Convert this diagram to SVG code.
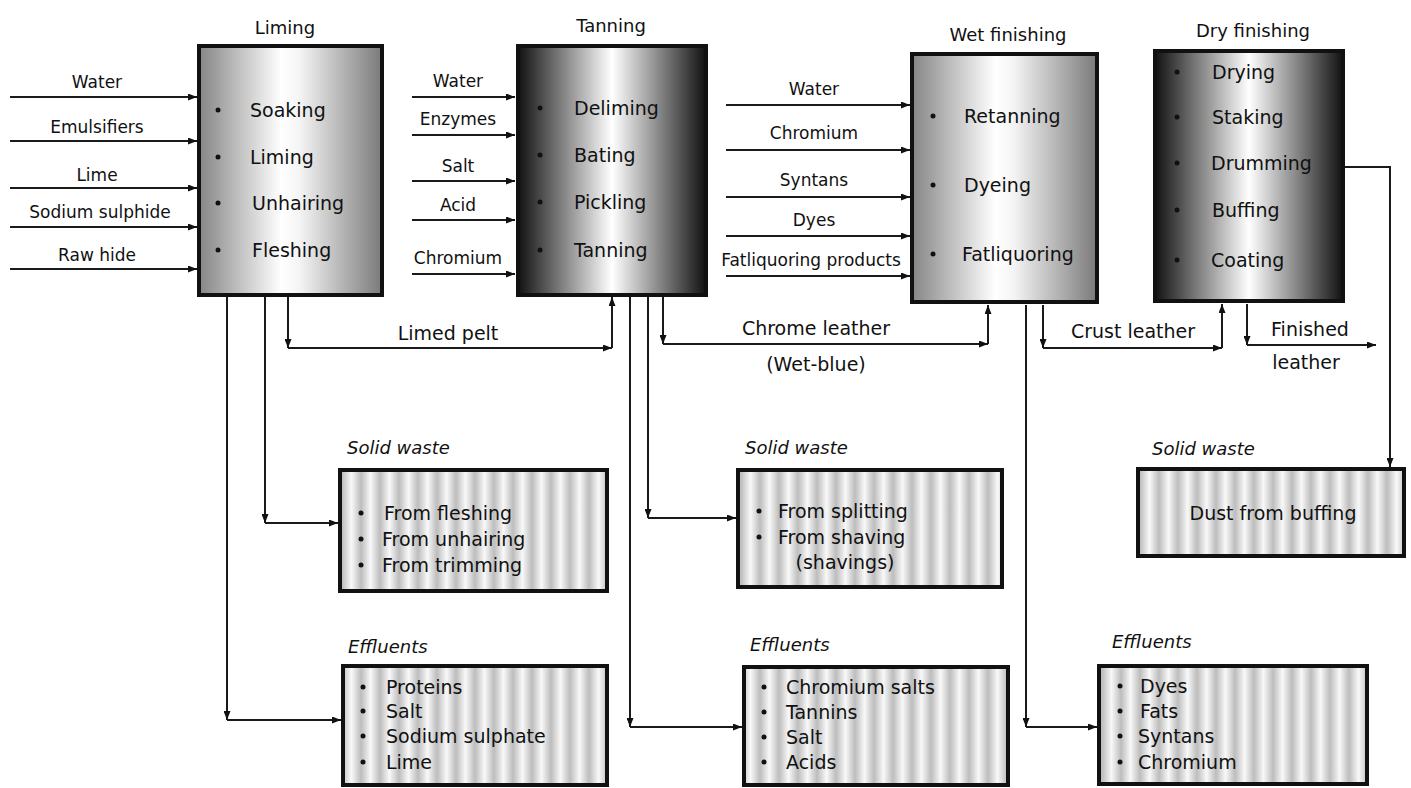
<svg xmlns="http://www.w3.org/2000/svg" width="1411" height="788" viewBox="0 0 1411 788">
<defs>
<linearGradient id="gLight" x1="0" y1="0" x2="1" y2="0">
<stop offset="0" stop-color="#858585"/><stop offset="0.45" stop-color="#ffffff"/><stop offset="0.55" stop-color="#f4f4f4"/><stop offset="1" stop-color="#7a7a7a"/>
</linearGradient>
<linearGradient id="gDark" x1="0" y1="0" x2="1" y2="0">
<stop offset="0" stop-color="#111"/><stop offset="0.5" stop-color="#ffffff"/><stop offset="1" stop-color="#111"/>
</linearGradient>
<linearGradient id="gStripe" gradientUnits="userSpaceOnUse" x1="0" y1="0" x2="19" y2="0" spreadMethod="repeat">
<stop offset="0" stop-color="#bdbdbd"/><stop offset="0.5" stop-color="#f8f8f8"/><stop offset="1" stop-color="#bdbdbd"/>
</linearGradient>
<marker id="ah" markerUnits="userSpaceOnUse" markerWidth="9" markerHeight="7" refX="9" refY="3.5" orient="auto">
<path d="M0,0 L9,3.5 L0,7 z" fill="#111"/>
</marker>
</defs>
<style>
text{font-family:"DejaVu Sans","Liberation Sans",sans-serif;fill:#111}
.t{font-size:18px}
.in{font-size:17px}
.it{font-size:19px}
.lab{font-size:19px}
.ws{font-size:18px;font-style:italic}
.bx{stroke:#111;stroke-width:4}
.ln line{stroke:#1a1a1a;stroke-width:2}
.ar{marker-end:url(#ah)}
.mid{text-anchor:middle}
</style>

<g id="connectors" class="ln">
<!-- Liming inputs -->
<line class="ar" x1="10" y1="97" x2="197" y2="97"/>
<line class="ar" x1="10" y1="141" x2="197" y2="141"/>
<line class="ar" x1="10" y1="188" x2="197" y2="188"/>
<line class="ar" x1="10" y1="227" x2="197" y2="227"/>
<line class="ar" x1="10" y1="269" x2="197" y2="269"/>
<!-- Tanning inputs -->
<line class="ar" x1="412" y1="97" x2="515" y2="97"/>
<line class="ar" x1="412" y1="135" x2="515" y2="135"/>
<line class="ar" x1="412" y1="181" x2="515" y2="181"/>
<line class="ar" x1="412" y1="220" x2="515" y2="220"/>
<line class="ar" x1="412" y1="274" x2="515" y2="274"/>
<!-- Wet finishing inputs -->
<line class="ar" x1="726" y1="105" x2="910" y2="105"/>
<line class="ar" x1="726" y1="150" x2="910" y2="150"/>
<line class="ar" x1="726" y1="197" x2="910" y2="197"/>
<line class="ar" x1="726" y1="236" x2="910" y2="236"/>
<line class="ar" x1="726" y1="276" x2="910" y2="276"/>
<!-- Limed pelt -->
<line class="ar" x1="288" y1="297" x2="288" y2="348"/>
<line class="ar" x1="288" y1="348" x2="612" y2="348"/>
<line class="ar" x1="612" y1="348" x2="612" y2="297"/>
<!-- Chrome leather -->
<line class="ar" x1="663" y1="297" x2="663" y2="344"/>
<line class="ar" x1="663" y1="344" x2="988" y2="344"/>
<line class="ar" x1="988" y1="344" x2="988" y2="305"/>
<!-- Crust leather -->
<line class="ar" x1="1043" y1="305" x2="1043" y2="348"/>
<line class="ar" x1="1043" y1="348" x2="1222" y2="348"/>
<line class="ar" x1="1222" y1="348" x2="1222" y2="304"/>
<!-- Finished leather -->
<line class="ar" x1="1247" y1="304" x2="1247" y2="345"/>
<line class="ar" x1="1247" y1="345" x2="1376" y2="345"/>
<!-- Liming wastes -->
<line class="ar" x1="265" y1="297" x2="265" y2="523"/>
<line class="ar" x1="265" y1="523" x2="338" y2="523"/>
<line class="ar" x1="227" y1="297" x2="227" y2="720"/>
<line class="ar" x1="227" y1="720" x2="341" y2="720"/>
<!-- Tanning wastes -->
<line class="ar" x1="648" y1="297" x2="648" y2="518"/>
<line class="ar" x1="648" y1="518" x2="736" y2="518"/>
<line class="ar" x1="630" y1="297" x2="630" y2="727"/>
<line class="ar" x1="630" y1="727" x2="742" y2="727"/>
<!-- Wet finishing effluents -->
<line class="ar" x1="1026" y1="305" x2="1026" y2="727"/>
<line class="ar" x1="1026" y1="727" x2="1097" y2="727"/>
<!-- Dry finishing solid waste -->
<line x1="1345" y1="167" x2="1390" y2="167"/>
<line class="ar" x1="1390" y1="166" x2="1390" y2="467"/>
</g>

<g id="input-labels">
<text class="in mid" x="97" y="88">Water</text>
<text class="in mid" x="97" y="133">Emulsifiers</text>
<text class="in mid" x="97" y="181">Lime</text>
<text class="in mid" x="100" y="218">Sodium sulphide</text>
<text class="in mid" x="97" y="261">Raw hide</text>
<text class="in mid" x="458" y="87">Water</text>
<text class="in mid" x="458" y="125">Enzymes</text>
<text class="in mid" x="458" y="172">Salt</text>
<text class="in mid" x="458" y="211">Acid</text>
<text class="in mid" x="458" y="264">Chromium</text>
<text class="in mid" x="814" y="95">Water</text>
<text class="in mid" x="814" y="139">Chromium</text>
<text class="in mid" x="814" y="186">Syntans</text>
<text class="in mid" x="814" y="226">Dyes</text>
<text class="in mid" x="811" y="266">Fatliquoring products</text>
</g>

<g id="flow-labels">
<text class="lab mid" x="448" y="340">Limed pelt</text>
<text class="lab mid" x="816" y="335">Chrome leather</text>
<text class="lab mid" x="816" y="371">(Wet-blue)</text>
<text class="lab mid" x="1133" y="338">Crust leather</text>
<text class="lab mid" x="1310" y="336">Finished</text>
<text class="lab mid" x="1306" y="369">leather</text>
</g>

<g id="liming">
<text class="t mid" x="285" y="34">Liming</text>
<rect class="bx" x="199" y="46" width="183" height="249" fill="url(#gLight)"/>
<circle cx="218" cy="110" r="2.5" fill="#111"/><text class="it" x="250" y="117">Soaking</text>
<circle cx="218" cy="157" r="2.5" fill="#111"/><text class="it" x="250" y="164">Liming</text>
<circle cx="218" cy="203" r="2.5" fill="#111"/><text class="it" x="252" y="210">Unhairing</text>
<circle cx="218" cy="250" r="2.5" fill="#111"/><text class="it" x="252" y="257">Fleshing</text>
</g>

<g id="tanning">
<text class="t mid" x="611" y="32">Tanning</text>
<rect class="bx" x="518" y="46" width="188" height="249" fill="url(#gDark)"/>
<circle cx="540" cy="108" r="2.5" fill="#111"/><text class="it" x="574" y="115">Deliming</text>
<circle cx="540" cy="155" r="2.5" fill="#111"/><text class="it" x="574" y="162">Bating</text>
<circle cx="540" cy="202" r="2.5" fill="#111"/><text class="it" x="574" y="209">Pickling</text>
<circle cx="540" cy="250" r="2.5" fill="#111"/><text class="it" x="574" y="257">Tanning</text>
</g>

<g id="wet-finishing">
<text class="t mid" x="1008" y="41">Wet finishing</text>
<rect class="bx" x="912" y="54" width="185" height="248" fill="url(#gLight)"/>
<circle cx="933" cy="116" r="2.5" fill="#111"/><text class="it" x="964" y="123">Retanning</text>
<circle cx="933" cy="185" r="2.5" fill="#111"/><text class="it" x="964" y="192">Dyeing</text>
<circle cx="933" cy="254" r="2.5" fill="#111"/><text class="it" x="962" y="261">Fatliquoring</text>
</g>

<g id="dry-finishing">
<text class="t mid" x="1253" y="37">Dry finishing</text>
<rect class="bx" x="1155" y="51" width="188" height="250" fill="url(#gDark)"/>
<circle cx="1177" cy="72" r="2.5" fill="#111"/><text class="it" x="1212" y="79">Drying</text>
<circle cx="1177" cy="117" r="2.5" fill="#111"/><text class="it" x="1212" y="124">Staking</text>
<circle cx="1177" cy="163" r="2.5" fill="#111"/><text class="it" x="1211" y="170">Drumming</text>
<circle cx="1177" cy="210" r="2.5" fill="#111"/><text class="it" x="1212" y="217">Buffing</text>
<circle cx="1177" cy="260" r="2.5" fill="#111"/><text class="it" x="1211" y="267">Coating</text>
</g>

<g id="solid-waste-liming">
<text class="ws" x="347" y="454">Solid waste</text>
<rect class="bx" x="340" y="470" width="267" height="121" fill="url(#gStripe)"/>
<circle cx="361" cy="513" r="2.5" fill="#111"/><text class="it" x="384" y="520">From fleshing</text>
<circle cx="361" cy="539" r="2.5" fill="#111"/><text class="it" x="382" y="546">From unhairing</text>
<circle cx="361" cy="565" r="2.5" fill="#111"/><text class="it" x="382" y="572">From trimming</text>
</g>

<g id="effluents-liming">
<text class="ws" x="348" y="653">Effluents</text>
<rect class="bx" x="343" y="666" width="264" height="119" fill="url(#gStripe)"/>
<circle cx="363" cy="687" r="2.5" fill="#111"/><text class="it" x="386" y="694">Proteins</text>
<circle cx="363" cy="711" r="2.5" fill="#111"/><text class="it" x="386" y="718">Salt</text>
<circle cx="363" cy="736" r="2.5" fill="#111"/><text class="it" x="386" y="743">Sodium sulphate</text>
<circle cx="363" cy="762" r="2.5" fill="#111"/><text class="it" x="386" y="769">Lime</text>
</g>

<g id="solid-waste-tanning">
<text class="ws" x="745" y="454">Solid waste</text>
<rect class="bx" x="738" y="470" width="264" height="117" fill="url(#gStripe)"/>
<circle cx="759" cy="511" r="2.5" fill="#111"/><text class="it" x="778" y="518">From splitting</text>
<circle cx="759" cy="537" r="2.5" fill="#111"/><text class="it" x="778" y="544">From shaving</text>
<text class="it mid" x="845" y="569">(shavings)</text>
</g>

<g id="effluents-tanning">
<text class="ws" x="750" y="651">Effluents</text>
<rect class="bx" x="744" y="667" width="264" height="118" fill="url(#gStripe)"/>
<circle cx="764" cy="687" r="2.5" fill="#111"/><text class="it" x="786" y="694">Chromium salts</text>
<circle cx="764" cy="712" r="2.5" fill="#111"/><text class="it" x="786" y="719">Tannins</text>
<circle cx="764" cy="737" r="2.5" fill="#111"/><text class="it" x="786" y="744">Salt</text>
<circle cx="764" cy="762" r="2.5" fill="#111"/><text class="it" x="786" y="769">Acids</text>
</g>

<g id="solid-waste-dry">
<text class="ws" x="1152" y="455">Solid waste</text>
<rect class="bx" x="1138" y="469" width="266" height="87" fill="url(#gStripe)"/>
<text class="it mid" x="1273" y="520">Dust from buffing</text>
</g>

<g id="effluents-wet">
<text class="ws" x="1112" y="648">Effluents</text>
<rect class="bx" x="1099" y="666" width="268" height="118" fill="url(#gStripe)"/>
<circle cx="1120" cy="686" r="2.5" fill="#111"/><text class="it" x="1140" y="693">Dyes</text>
<circle cx="1120" cy="711" r="2.5" fill="#111"/><text class="it" x="1140" y="718">Fats</text>
<circle cx="1120" cy="736" r="2.5" fill="#111"/><text class="it" x="1138" y="743">Syntans</text>
<circle cx="1120" cy="762" r="2.5" fill="#111"/><text class="it" x="1138" y="769">Chromium</text>
</g>
</svg>
